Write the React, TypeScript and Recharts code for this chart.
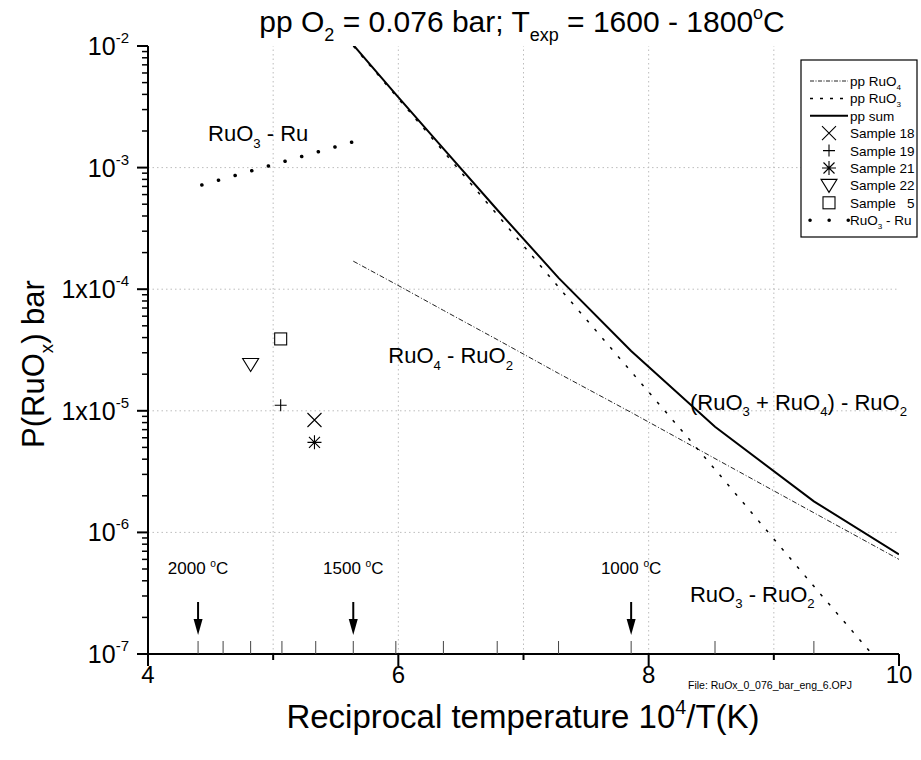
import React from 'react';
import {
  ComposedChart, Line, Scatter, XAxis, YAxis, ReferenceLine, ReferenceDot,
} from 'recharts';

const W = 921;
const H = 760;
const FONT = '"Liberation Sans", Arial, Helvetica, sans-serif';

// calculation grid, reciprocal temperature 10^4/T (1500 ... 727 °C)
const calcX = [5.64, 5.98, 6.36, 6.79, 7.28, 7.86, 8.53, 9.32, 10.0];
const ppRuO4 = [1.7e-4, 1.1e-4, 6.7e-5, 3.85e-5, 2.03e-5, 9.7e-6, 4.05e-6, 1.45e-6, 6.0e-7];
const ppRuO3 = [1.0e-2, 3.9e-3, 1.36e-3, 4.1e-4, 1.04e-4, 2.1e-5, 3.3e-6, 3.6e-7, 5.5e-8];
const ppSum = [1.02e-2, 4.0e-3, 1.43e-3, 4.5e-4, 1.24e-4, 3.1e-5, 7.4e-6, 1.8e-6, 6.6e-7];

// RuO3 - Ru equilibrium
const ruX = [4.43, 5.63];
const ruP = [7.2e-4, 1.62e-3];

// measured samples
const sampleNames = ['Sample 18', 'Sample 19', 'Sample 21', 'Sample 22', 'Sample   5'];
const sampleX = [5.33, 5.06, 5.33, 4.82, 5.06];
const sampleP = [8.4e-6, 1.11e-5, 5.5e-6, 2.4e-5, 3.9e-5];
const sampleMarker = ['cross', 'plus', 'star', 'tri', 'square'];

// temperature marks 2000 ... 800 °C on the 10^4/T axis
const tempX = [4.40, 4.60, 4.82, 5.07, 5.34, 5.64, 5.98, 6.36, 6.79, 7.28, 7.86, 8.53, 9.32];
const arrowLabels = ['2000', '1500', '1000'];
const arrowX = [4.40, 5.64, 7.86];

const xTicks = [4, 5, 6, 7, 8, 9, 10];
const xGrid = [5, 6, 7, 8, 9];
const yMajor = [1e-7, 1e-6, 1e-5, 1e-4, 1e-3, 1e-2];
const yMajorBase = ['10', '10', '1x10', '1x10', '10', '10'];
const yMajorExp = ['-7', '-6', '-5', '-4', '-3', '-2'];
const yGrid = [1e-6, 1e-5, 1e-4, 1e-3];

const yMinor: number[] = [];
for (let e = -7; e < -2; e++) for (let m = 2; m <= 9; m++) yMinor.push(m * Math.pow(10, e));
const yTicks = [...yMajor, ...yMinor].sort((a, b) => a - b);

const toRows = (xs: number[], ps: number[]) => xs.map((x, i) => ({ x, p: ps[i] }));
const ruO4Data = toRows(calcX, ppRuO4);
const ruO3Data = toRows(calcX, ppRuO3);
const sumData = toRows(calcX, ppSum);
const ruData = toRows(ruX, ruP);

type Part = [string, 'n' | 'b' | 'p'];

function Rich({ x, y, parts, size, anchor = 'start' }: { x: number; y: number; parts: Part[]; size: number; anchor?: string }) {
  let shift = 0;
  return (
    <text x={x} y={y} fontSize={size} fontFamily={FONT} textAnchor={anchor} fill="#000" style={{ whiteSpace: 'pre' }}>
      {parts.map(([t, k], i) => {
        const target = k === 'b' ? size * 0.3 : k === 'p' ? -size * 0.42 : 0;
        const dy = target - shift;
        shift = target;
        return <tspan key={i} dy={dy} fontSize={k === 'n' ? size : size * 0.6}>{t}</tspan>;
      })}
    </text>
  );
}

function marker(kind: string, cx: number, cy: number) {
  const s = { stroke: '#000', strokeWidth: 1.1, fill: 'none' };
  if (kind === 'cross') return <path d={`M${cx - 7},${cy - 7}L${cx + 7},${cy + 7}M${cx - 7},${cy + 7}L${cx + 7},${cy - 7}`} {...s} />;
  if (kind === 'plus') return <path d={`M${cx - 6},${cy}L${cx + 6},${cy}M${cx},${cy - 6}L${cx},${cy + 6}`} {...s} />;
  if (kind === 'star') return <path d={`M${cx - 7},${cy}L${cx + 7},${cy}M${cx},${cy - 7}L${cx},${cy + 7}M${cx - 5.5},${cy - 5.5}L${cx + 5.5},${cy + 5.5}M${cx - 5.5},${cy + 5.5}L${cx + 5.5},${cy - 5.5}`} {...s} />;
  if (kind === 'tri') return <polygon points={`${cx - 8},${cy - 6} ${cx + 8},${cy - 6} ${cx},${cy + 7}`} {...s} />;
  return <rect x={cx - 6} y={cy - 6} width={12} height={12} {...s} />;
}

function YTick(props: any) {
  const { x, y, payload } = props;
  const i = yMajor.findIndex(v => Math.abs(Math.log10(v) - Math.log10(payload.value)) < 1e-6);
  if (i < 0) return <line x1={x - 6} x2={x} y1={y} y2={y} stroke="#000" strokeWidth={1.5} />;
  return (
    <g>
      <line x1={x - 11} x2={x} y1={y} y2={y} stroke="#000" strokeWidth={2} />
      <text x={x - 19} y={y + 9} textAnchor="end" fontSize={25} fontFamily={FONT} fill="#000">
        <tspan>{yMajorBase[i]}</tspan>
        <tspan dy={-12} fontSize={15}>{yMajorExp[i]}</tspan>
      </text>
    </g>
  );
}

function XTick(props: any) {
  const { x, y, payload } = props;
  const even = payload.value % 2 === 0;
  return (
    <g>
      <line x1={x} x2={x} y1={y} y2={y + (even ? 12 : 6)} stroke="#000" strokeWidth={2} />
      {even && (
        <text x={x} y={y + 29} textAnchor="middle" fontSize={24} fontFamily={FONT} fill="#000">{payload.value}</text>
      )}
    </g>
  );
}

const annotations: { x: number; y: number; parts: Part[] }[] = [
  { x: 4.48, y: 1.65e-3, parts: [['RuO', 'n'], ['3', 'b'], [' - Ru', 'n']] },
  { x: 5.92, y: 2.45e-5, parts: [['RuO', 'n'], ['4', 'b'], [' - RuO', 'n'], ['2', 'b']] },
  { x: 8.33, y: 1.02e-5, parts: [['(RuO', 'n'], ['3', 'b'], [' + RuO', 'n'], ['4', 'b'], [') - RuO', 'n'], ['2', 'b']] },
  { x: 8.33, y: 2.7e-7, parts: [['RuO', 'n'], ['3', 'b'], [' - RuO', 'n'], ['2', 'b']] },
];

function Legend() {
  const lx1 = 810, lx2 = 848, tx = 850, y0 = 81, dy = 17.4;
  const rows = [
    { label: [['pp RuO', 'n'], ['4', 'b']] as Part[], draw: (y: number) => <line x1={lx1} x2={lx2} y1={y} y2={y} stroke="#222" strokeWidth={1} strokeDasharray="4 1.5 1 1.5" /> },
    { label: [['pp RuO', 'n'], ['3', 'b']] as Part[], draw: (y: number) => <line x1={lx1} x2={lx2} y1={y} y2={y} stroke="#000" strokeWidth={1.5} strokeDasharray="3 7" /> },
    { label: [['pp sum', 'n']] as Part[], draw: (y: number) => <line x1={lx1} x2={lx2} y1={y} y2={y} stroke="#000" strokeWidth={2} /> },
    ...sampleNames.map((n, i) => ({ label: [[n, 'n']] as Part[], draw: (y: number) => marker(sampleMarker[i], 829, y) })),
    { label: [['RuO', 'n'], ['3', 'b'], [' - Ru', 'n']] as Part[], draw: (y: number) => <line x1={lx1} x2={lx2 + 1} y1={y} y2={y} stroke="#000" strokeWidth={3.5} strokeLinecap="round" strokeDasharray="0.1 19" /> },
  ];
  return (
    <g>
      <rect x={801} y={60} width={116} height={177} fill="#fff" stroke="#000" strokeWidth={1.2} />
      {rows.map((r, i) => {
        const y = y0 + i * dy;
        return (
          <g key={i}>
            {r.draw(y)}
            <Rich x={tx} y={y + 5} parts={r.label} size={13.5} />
          </g>
        );
      })}
    </g>
  );
}

export default function App() {
  return (
    <div style={{ position: 'absolute', left: 0, top: 0, width: W, height: H, background: '#fff' }}>
      <ComposedChart width={W} height={H} margin={{ top: 46, right: 22, bottom: 46, left: 8 }}>
        <XAxis
          type="number" dataKey="x" domain={[4, 10]} ticks={xTicks} allowDataOverflow
          height={60} tickSize={0} tickMargin={0} tick={<XTick />}
          axisLine={{ stroke: '#000', strokeWidth: 2 }} tickLine={false}
        />
        <YAxis
          type="number" dataKey="p" scale="log" domain={[1e-7, 1e-2]} ticks={yTicks} allowDataOverflow
          width={140} tickSize={0} tickMargin={0} tick={<YTick />} interval={0}
          axisLine={{ stroke: '#000', strokeWidth: 2 }} tickLine={false}
        />
        {xGrid.map(v => (
          <ReferenceLine key={`gx${v}`} x={v} stroke="#bdbdbd" strokeDasharray="1.5 3" />
        ))}
        {yGrid.map(v => (
          <ReferenceLine key={`gy${v}`} y={v} stroke="#bdbdbd" strokeDasharray="1.5 3" />
        ))}
        {tempX.map(v => (
          <ReferenceDot key={`t${v}`} x={v} y={1e-7} shape={(p: any) => (
            <line x1={p.cx} x2={p.cx} y1={p.cy - 13} y2={p.cy} stroke="#444" strokeWidth={1} />
          )} />
        ))}
        {arrowX.map((v, i) => (
          <ReferenceDot key={`a${v}`} x={v} y={1e-7} shape={(p: any) => (
            <g>
              <line x1={p.cx} x2={p.cx} y1={p.cy - 52} y2={p.cy - 32} stroke="#000" strokeWidth={2} />
              <polygon points={`${p.cx - 4.5},${p.cy - 35} ${p.cx + 4.5},${p.cy - 35} ${p.cx},${p.cy - 19}`} fill="#000" />
              <Rich x={p.cx} y={p.cy - 80} size={17} anchor="middle" parts={[[arrowLabels[i] + ' ', 'n'], ['o', 'p'], ['C', 'n']]} />
            </g>
          )} />
        ))}
        <Line data={ruO4Data} dataKey="p" type="linear" stroke="#222" strokeWidth={1} strokeDasharray="5 2 1 2" dot={false} isAnimationActive={false} />
        <Line data={ruO3Data} dataKey="p" type="linear" stroke="#000" strokeWidth={1.5} strokeDasharray="3 9" dot={false} isAnimationActive={false} />
        <Line data={sumData} dataKey="p" type="linear" stroke="#000" strokeWidth={2} dot={false} isAnimationActive={false} />
        <Line data={ruData} dataKey="p" type="linear" stroke="#000" strokeWidth={3.5} strokeLinecap="round" strokeDasharray="0.1 17.2" dot={false} isAnimationActive={false} />
        {sampleNames.map((n, i) => (
          <Scatter key={n} name={n} data={[{ x: sampleX[i], p: sampleP[i] }]} dataKey="p" isAnimationActive={false}
            shape={(p: any) => marker(sampleMarker[i], p.cx, p.cy)} />
        ))}
        {annotations.map((a, i) => (
          <ReferenceDot key={`n${i}`} x={a.x} y={a.y} shape={(p: any) => <Rich x={p.cx} y={p.cy} parts={a.parts} size={22} />} />
        ))}
      </ComposedChart>
      <svg width={W} height={H} style={{ position: 'absolute', left: 0, top: 0, pointerEvents: 'none' }}>
        <Rich x={522} y={32} size={30} anchor="middle"
          parts={[['pp O', 'n'], ['2', 'b'], [' = 0.076 bar; T', 'n'], ['exp', 'b'], [' = 1600 - 1800', 'n'], ['o', 'p'], ['C', 'n']]} />
        <Rich x={523} y={728} size={33} anchor="middle"
          parts={[['Reciprocal temperature 10', 'n'], ['4', 'p'], ['/T(K)', 'n']]} />
        <g transform="translate(44,364) rotate(-90)">
          <Rich x={0} y={0} size={31} anchor="middle" parts={[['P(RuO', 'n'], ['x', 'b'], [') bar', 'n']]} />
        </g>
        <text x={688} y={689} fontSize={10.5} fontFamily={FONT} fill="#000">File: RuOx_0_076_bar_eng_6.OPJ</text>
        <Legend />
      </svg>
    </div>
  );
}
